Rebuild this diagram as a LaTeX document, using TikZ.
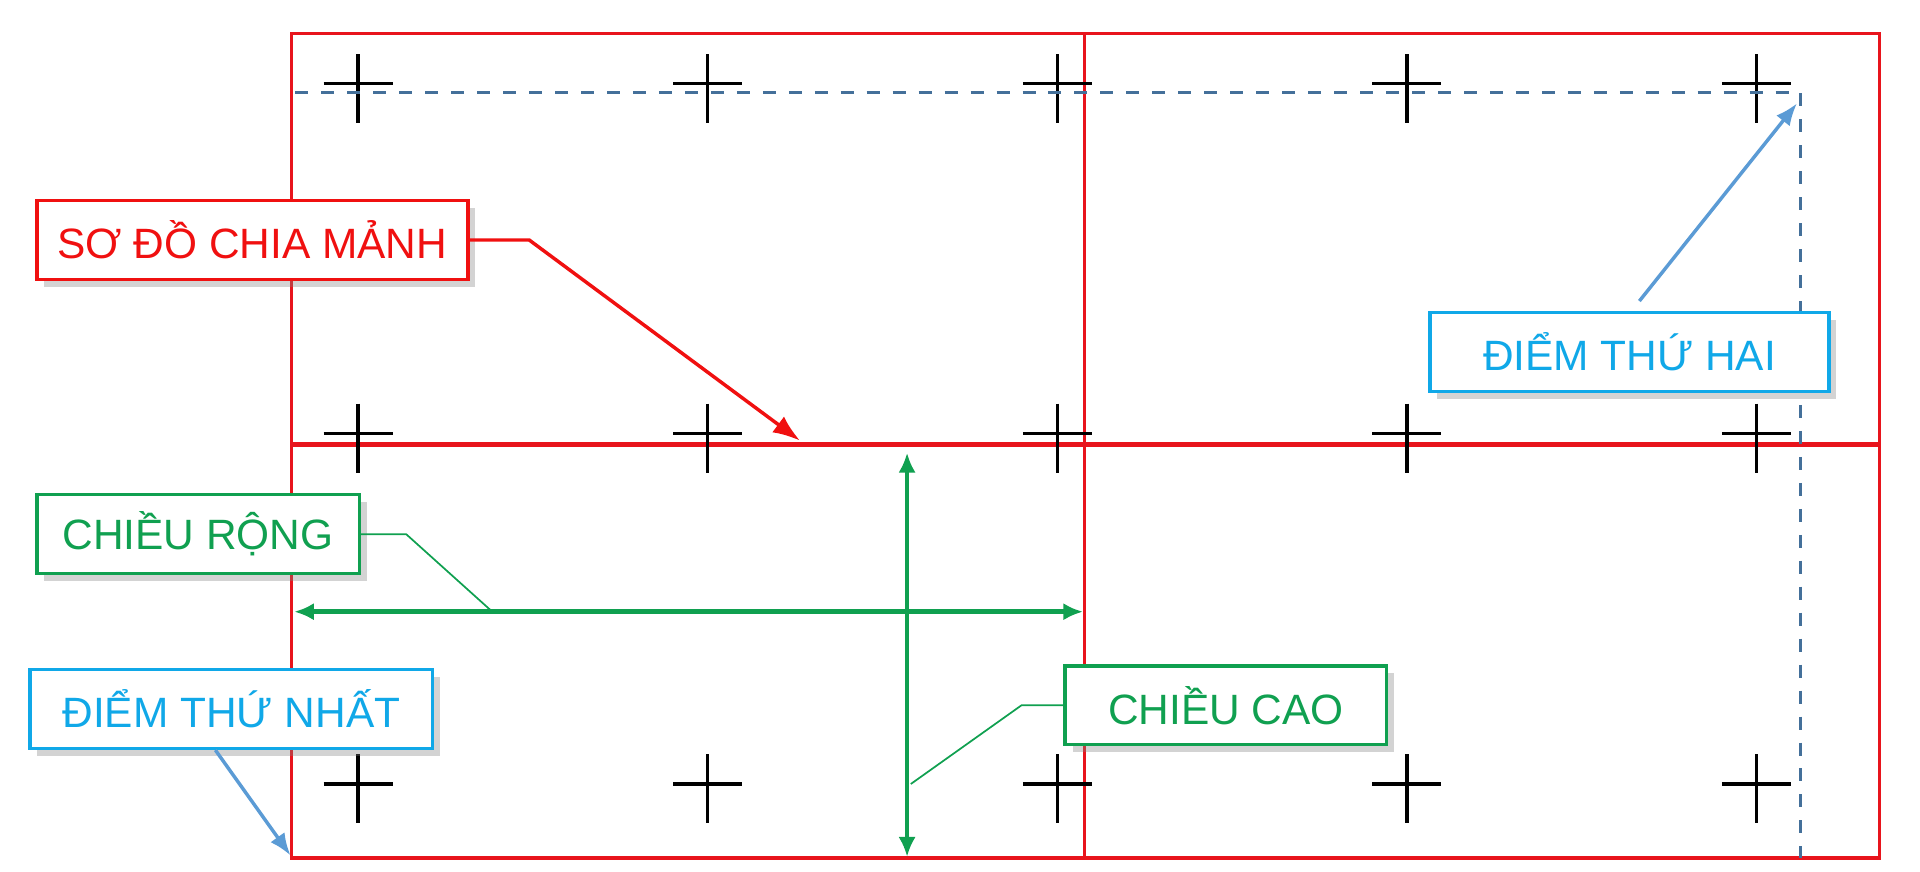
\documentclass[tikz,border=0pt]{standalone}
\usepackage{fontspec}
\setmainfont{Liberation Sans}
\usetikzlibrary{shadows,arrows.meta}
\definecolor{sheetred}{HTML}{E8141C}
\definecolor{tagred}{HTML}{F01010}
\definecolor{tagcyan}{HTML}{10A8E8}
\definecolor{taggreen}{HTML}{10A050}
\definecolor{arrowblue}{HTML}{5B9BD5}
\definecolor{dashblue}{HTML}{44709A}
\tikzset{
  tag/.style={draw, thick, fill=white, minimum height=0.64cm, inner xsep=0.1cm,
    font=\fontsize{9.8}{12}\selectfont, drop shadow={opacity=0.35, shadow xshift=0.06cm, shadow yshift=-0.06cm}},
  crossmark/.style={black, thick},
  dimtip/.style={{Latex[length=0.16cm,width=0.14cm]}-{Latex[length=0.16cm,width=0.14cm]}}
}
\begin{document}
\begin{tikzpicture}[x=0.01cm,y=-0.01cm]
  \useasboundingbox (0,0) rectangle (1560,708);

  % Sheet layout
  \draw [sheetred, thick] (237,27) rectangle (1527,697);
  \draw [sheetred, thick] (881,27) -- (881,697);
  \draw [sheetred, very thick] (237,361) -- (1527,361);

  % Crosses ...
  \foreach \x in {291,575,859,1143,1427} {
    \foreach \y in {72,356,641} {
      \draw [crossmark] (\x-28,\y-4) -- (\x+28,\y-4);
      \draw [crossmark] (\x,\y-28) -- (\x,\y+28);
    }
  }

  % Frame of the points
  \draw [dashblue, thick, dashed] (240,75) -- (1463,75) -- (1463,697);
  \coordinate (p2) at (1460,84);
  \coordinate (p1) at (236,695);

  % Labels
  \node [tag, draw=tagred, text=tagred, minimum width=3.5cm] (split) at (205,195) {SƠ ĐỒ CHIA MẢNH};
  \node [tag, draw=tagcyan, text=tagcyan, minimum width=3.24cm] (second) at (1324,286) {ĐIỂM THỨ HAI};
  \node [tag, draw=taggreen, text=taggreen, minimum width=2.62cm] (width) at (161,434) {CHIỀU RỘNG};
  \node [tag, draw=taggreen, text=taggreen, minimum width=2.61cm] (height) at (996,573) {CHIỀU CAO};
  \node [tag, draw=tagcyan, text=tagcyan, minimum width=3.27cm] (first) at (188,576) {ĐIỂM THỨ NHẤT};

  % Dimensions
  \coordinate (wl) at (239,497);
  \coordinate (wr) at (880,497);
  \coordinate (ht) at (737,368);
  \coordinate (hb) at (737,696);
  \draw [taggreen, very thick, dimtip] (wl) -- (wr);
  \draw [taggreen, thick, dimtip] (ht) -- (hb);

  % Leaders
  \draw [tagred, thick, -{Latex[length=0.22cm,width=0.16cm]}] (split.east) -- (430,195) -- (650,358);
  \draw [arrowblue, thick, -{Latex[length=0.18cm,width=0.14cm]}] ([shift={(8,-8)}]second.north) -- (p2);
  \draw [arrowblue, thick, -{Latex[length=0.18cm,width=0.14cm]}] ([shift={(-13,0)}]first.south) -- (p1);
  \draw [taggreen] (width.east) -- (330,434) -- (400,497);
  \draw [taggreen] (height.west) -- (830,573) -- (740,637);
\end{tikzpicture}
\end{document}
